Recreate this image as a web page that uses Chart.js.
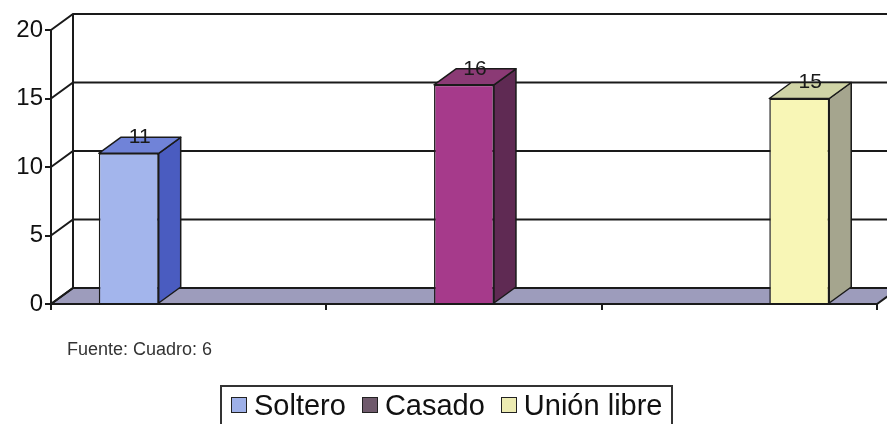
<!DOCTYPE html>
<html>
<head>
<meta charset="utf-8">
<script src="https://cdn.jsdelivr.net/npm/chart.js@4.4.1/dist/chart.umd.min.js"></script>
<style>
    body { margin: 0; background: #fff; font-family: "Liberation Sans", Arial, sans-serif; }
    #wrap { position: relative; width: 887px; height: 424px; overflow: hidden; }
    #source { position: absolute; left: 67px; top: 340px; font-size: 18px; line-height: 18px; color: #333; }
    #legend { position: absolute; left: 220px; top: 385px; height: 50px; padding: 0 8px 0 9px;
              border: 2px solid #333; display: flex; align-items: flex-start; font-size: 29px; color: #111; }
    #legend .item { display: flex; align-items: center; margin-right: 16px; height: 36px; }
    #legend .item:last-child { margin-right: 0; }
    #legend .box { width: 14px; height: 14px; border: 1.5px solid #222; margin-right: 7px; }
</style>
</head>
<body>
<div id="wrap">
    <canvas id="chart" width="887" height="424"></canvas>
    <div id="source">Fuente: Cuadro: 6</div>
    <div id="legend"></div>
</div>
<script>
    // data
    const categories = ['', '', ''];
    const seriesNames = ['Soltero', 'Casado', 'Unión libre'];
    const solteroValues = [11, null, null];
    const casadoValues = [null, 16, null];
    const unionValues = [null, null, 15];
    const yTicks = [0, 5, 10, 15, 20];

    // colours: front face, side face, top face, legend swatch
    const frontColors = ['#a3b5ec', '#a63a8b', '#f8f6b6'];
    const sideColors = ['#4a5cc0', '#5f2a53', '#a5a58e'];
    const topColors = ['#7083d8', '#8b3a75', '#d0d4a6'];
    const swatchColors = ['#9eb0e8', '#6f5a6c', '#ecebb2'];

    const depth = { dx: 22, dy: 16 };
    const ink = '#1a1a1a';

    const threeD = {
        id: 'threeD',
        beforeDatasetsDraw(chart) {
            const { ctx, chartArea } = chart;
            const y = chart.scales.y;
            const { left, right, bottom, top } = chartArea;
            ctx.save();
            // floor
            ctx.beginPath();
            ctx.moveTo(left, bottom);
            ctx.lineTo(right, bottom);
            ctx.lineTo(right + depth.dx, bottom - depth.dy);
            ctx.lineTo(left + depth.dx, bottom - depth.dy);
            ctx.closePath();
            ctx.fillStyle = '#9d9cbc';
            ctx.fill();
            ctx.strokeStyle = ink;
            ctx.lineWidth = 2;
            ctx.stroke();
            // back wall gridlines
            yTicks.forEach(v => {
                const py = y.getPixelForValue(v);
                ctx.beginPath();
                ctx.moveTo(left, py);
                ctx.lineTo(left + depth.dx, py - depth.dy);
                ctx.lineTo(chart.width, py - depth.dy);
                ctx.stroke();
            });
            // side wall back edge
            ctx.beginPath();
            ctx.moveTo(left + depth.dx, top - depth.dy);
            ctx.lineTo(left + depth.dx, bottom - depth.dy);
            ctx.stroke();
            ctx.restore();
        },
        afterDatasetsDraw(chart) {
            const { ctx } = chart;
            ctx.save();
            chart.data.datasets.forEach((ds, i) => {
                const meta = chart.getDatasetMeta(i);
                meta.data.forEach((bar, j) => {
                    if (ds.data[j] === null) return;
                    const { x, y, width, base } = bar.getProps(['x', 'y', 'width', 'base'], true);
                    const l = x - width / 2, r = x + width / 2;
                    ctx.lineWidth = 1.5;
                    ctx.strokeStyle = ink;
                    ctx.lineJoin = 'round';
                    // side face
                    ctx.beginPath();
                    ctx.moveTo(r, y);
                    ctx.lineTo(r + depth.dx, y - depth.dy);
                    ctx.lineTo(r + depth.dx, base - depth.dy);
                    ctx.lineTo(r, base);
                    ctx.closePath();
                    ctx.fillStyle = sideColors[i];
                    ctx.fill();
                    ctx.stroke();
                    // top face
                    ctx.beginPath();
                    ctx.moveTo(l, y);
                    ctx.lineTo(l + depth.dx, y - depth.dy);
                    ctx.lineTo(r + depth.dx, y - depth.dy);
                    ctx.lineTo(r, y);
                    ctx.closePath();
                    ctx.fillStyle = topColors[i];
                    ctx.fill();
                    ctx.stroke();
                    // value label
                    ctx.fillStyle = ink;
                    ctx.font = '21px "Liberation Sans", Arial, sans-serif';
                    ctx.textAlign = 'center';
                    ctx.textBaseline = 'middle';
                    ctx.fillText(String(ds.data[j]), x + depth.dx / 2, y - depth.dy);
                });
            });
            ctx.restore();
        }
    };

    const seriesData = [solteroValues, casadoValues, unionValues];

    new Chart(document.getElementById('chart'), {
        type: 'bar',
        data: {
            labels: categories,
            datasets: seriesNames.map((name, i) => ({
                label: name,
                data: seriesData[i],
                backgroundColor: frontColors[i],
                borderColor: ink,
                borderWidth: 1.5,
                categoryPercentage: 0.653,
                barPercentage: 1
            }))
        },
        options: {
            responsive: false,
            animation: false,
            devicePixelRatio: 1,
            layout: { padding: { top: 30, right: 10, bottom: 114, left: 0 } },
            plugins: {
                legend: { display: false },
                tooltip: { enabled: false }
            },
            scales: {
                x: {
                    offset: true,
                    grid: { offset: true, drawOnChartArea: false, tickLength: 6, color: ink, lineWidth: 2 },
                    border: { display: false },
                    ticks: { display: false },
                    afterFit: s => { s.height = 6; }
                },
                y: {
                    min: 0,
                    max: 20,
                    afterBuildTicks: s => { s.ticks = yTicks.map(v => ({ value: v })); },
                    ticks: {
                        color: '#111',
                        padding: 2,
                        font: { size: 24, family: '"Liberation Sans", Arial, sans-serif' }
                    },
                    grid: { drawOnChartArea: false, tickLength: 6, color: ink, lineWidth: 2 },
                    border: { color: ink, width: 2 },
                    afterFit: s => { s.width = 51; }
                }
            }
        },
        plugins: [threeD]
    });

    // legend
    const legend = document.getElementById('legend');
    seriesNames.forEach((name, i) => {
        const item = document.createElement('div');
        item.className = 'item';
        const box = document.createElement('span');
        box.className = 'box';
        box.style.background = swatchColors[i];
        const text = document.createElement('span');
        text.textContent = name;
        item.appendChild(box);
        item.appendChild(text);
        legend.appendChild(item);
    });
</script>
</body>
</html>
